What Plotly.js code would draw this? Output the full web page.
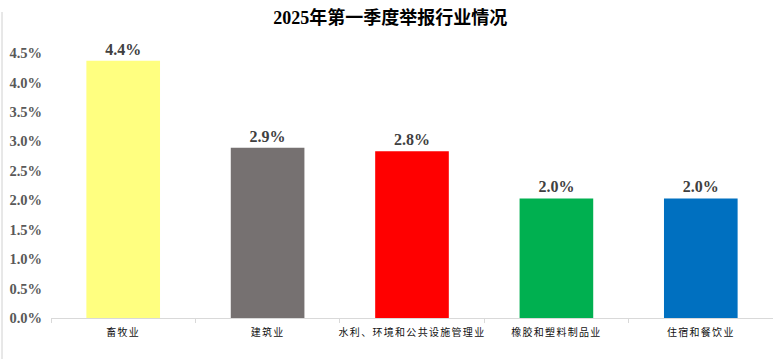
<!DOCTYPE html>
<html><head><meta charset="utf-8">
<script src="https://cdn.plot.ly/plotly-3.0.1.min.js"></script>
<style>html,body{margin:0;padding:0;background:#fff}#c{width:773px;height:359px}
.xtick text{letter-spacing:1.3px}</style>
</head><body><div id="c"></div>
<script>
const categories = ["畜牧业", "建筑业", "水利、环境和公共设施管理业", "橡胶和塑料制品业", "住宿和餐饮业"];
const values = [0.0437, 0.0289, 0.0283, 0.0203, 0.0203];
const labels = ["4.4%", "2.9%", "2.8%", "2.0%", "2.0%"];
const colors = ["#FFFF80", "#767171", "#FF0000", "#00B050", "#0070C0"];
const yTicks = [0, 0.005, 0.01, 0.015, 0.02, 0.025, 0.03, 0.035, 0.04, 0.045];

const serif = "Liberation Serif, Noto Sans CJK SC, serif";
Plotly.newPlot("c", [{
  type: "bar", x: categories, y: values,
  marker: {color: colors},
  text: labels, textposition: "outside", cliponaxis: false,
  textfont: {family: serif, size: 16, color: "#404040", weight: "bold"},
  hoverinfo: "none"
}], {
  width: 773, height: 359,
  margin: {l: 51, r: 0, t: 53, b: 41},
  paper_bgcolor: "#fff", plot_bgcolor: "#fff",
  bargap: 0.49,
  title: {text: "<b>2025年第一季度举报行业情况</b>", x: 0.505, xanchor: "center", y: 0.95, yanchor: "middle",
    font: {family: serif, size: 18, color: "#000"}},
  xaxis: {type: "category", showline: true, linecolor: "#d9d9d9", linewidth: 1,
    ticks: "outside", tickson: "boundaries", ticklen: 4, tickcolor: "#d9d9d9", ticklabelstandoff: 5,
    tickfont: {family: "Noto Sans CJK SC, sans-serif", size: 10, color: "#111"}, fixedrange: true},
  yaxis: {range: [0, 0.045], tickvals: yTicks, tickformat: ".1%", showgrid: false, zeroline: false,
    showline: false, ticks: "", ticklabelstandoff: 8,
    tickfont: {family: serif, size: 14.5, color: "#595959", weight: "bold"}, fixedrange: true},
  shapes: [{type: "line", xref: "paper", yref: "paper", x0: -49/722, x1: -49/722, y0: -41/265, y1: 306/265,
    line: {color: "#d0d0d0", width: 1}}],
  showlegend: false
}, {displayModeBar: false, staticPlot: true});
</script></body></html>
